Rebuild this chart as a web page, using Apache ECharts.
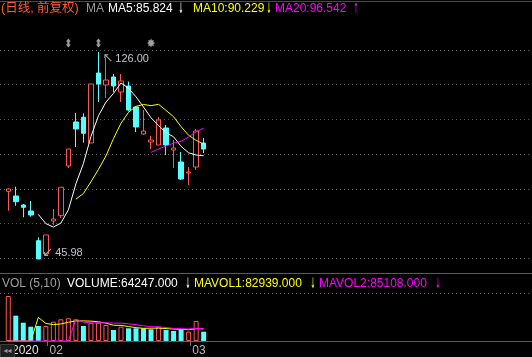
<!DOCTYPE html>
<html><head><meta charset="utf-8">
<script src="https://cdn.jsdelivr.net/npm/echarts@6/dist/echarts.min.js"></script>
<style>html,body{margin:0;padding:0;background:#000;}#c{width:532px;height:357px;}</style>
</head><body><div id="c"></div>
<script>
// ---------------- data ----------------
const dates = ['2020-01-27','2020-01-28','2020-01-29','2020-01-30','2020-01-31',
  '2020-02-03','2020-02-04','2020-02-05','2020-02-06','2020-02-07',
  '2020-02-10','2020-02-11','2020-02-12','2020-02-13','2020-02-14',
  '2020-02-18','2020-02-19','2020-02-20','2020-02-21',
  '2020-02-24','2020-02-25','2020-02-26','2020-02-27','2020-02-28',
  '2020-03-02','2020-03-03','2020-03-04'];
const opens  = [72.15,70.33,66.85,64.53,53.05,47.91,60.67,62.72,81.93,98.94,100.76,90.82,117.88,113.25,116.34,110.54,112.86,104.74,94.30,91.21,90.05,96.62,88.11,83.48,79.22,81.54,90.82];
const closes = [73.04,68.13,65.96,62.99,45.98,55.26,61.44,73.70,88.50,96.23,94.57,113.63,113.63,115.18,112.86,114.79,103.58,97.01,95.46,91.98,99.71,90.05,88.89,76.90,79.61,95.46,88.50];
const lows   = [64.65,66.58,62.10,62.33,45.98,47.50,59.12,61.83,81.16,89.27,90.94,90.82,106.67,108.22,110.54,106.67,103.00,95.07,93.91,88.50,90.05,86.18,81.16,76.52,74.59,80.38,86.95];
const highs  = [73.30,73.93,67.24,68.40,54.37,55.26,65.31,73.70,88.50,102.42,102.30,113.63,126.00,123.68,117.50,117.50,114.60,104.74,103.58,93.53,100.87,97.78,91.98,87.34,81.54,96.23,92.75];
const volumes = [310500,174600,126300,98700,103500,103500,133200,149700,156600,149700,103500,126300,126300,110400,75900,98700,87600,87600,87600,80700,98700,75900,69000,80700,64200,138000,64247];
const maPeriods = [5, 10, 20];
const volMaPeriods = [5, 10];
const eventIndex = [8, 12, 19];
const eventKind = ['split', 'split', 'news'];
const headerTexts = ['(日线, 前复权)', 'MA', 'MA5:85.824', '↓', 'MA10:90.229', '↓', 'MA20:96.542', '↑'];
const volumeTexts = ['VOL (5,10)', 'VOLUME:64247.000', '↓', 'MAVOL1:82939.000', '↓', 'MAVOL2:85108.000', '↓'];

// ---------------- helpers ----------------
function movingAverage(arr, n, fill) {
  return arr.map((v, i) => {
    if (i < n - 1) return fill;
    let s = 0; for (let k = i - n + 1; k <= i; k++) s += arr[k];
    return +(s / n).toFixed(3);
  });
}
const UP = '#ff5555', DOWN = '#55ffff';
const SLOTS = 70, STEP = 7.515, LEFT = 4.5;
const plotW = SLOTS * STEP;
const candleData = dates.map((d, i) => [opens[i], closes[i], lows[i], highs[i]]);
// volume bars coloured by change against the previous close
const volData = volumes.map((v, i) => ({
  value: v,
  itemStyle: (i === 0 || closes[i] >= closes[i - 1])
    ? { color: 'rgba(0,0,0,0)', borderColor: UP, borderWidth: 1 }
    : { color: DOWN, borderColor: DOWN, borderWidth: 0 }
}));
const maColors = ['#ffffff', '#ffff00', '#ff00ff'];
const arrowPath = 'path://M2.5,0 L5,3 L3.6,3 L3.6,6 L5,6 L2.5,9 L0,6 L1.4,6 L1.4,3 L0,3 Z';
const starPath = 'path://M10,5 L7.9,6.2 L8.5,8.5 L6.2,7.9 L5,10 L3.8,7.9 L1.5,8.5 L2.1,6.2 L0,5 L2.1,3.8 L1.5,1.5 L3.8,2.1 L5,0 L6.2,2.1 L8.5,1.5 L7.9,3.8 Z';
const isMonthStart = (idx) => idx > 0 && idx < dates.length && dates[idx].slice(5, 7) !== dates[idx - 1].slice(5, 7);

const FONT = '"Liberation Sans", Arial, "Noto Sans CJK SC", sans-serif';
const headerColors = ['#ff5a2a', '#9a9a9a', '#ffffff', '#ffffff', '#ffff00', '#ffff00', '#ff00ff', '#ff00ff'];
const headerX = [1, 86, 108, 181, 193, 269, 275, 356];
const volColors = ['#a0a0a0', '#ffffff', '#ffffff', '#ffff00', '#ffff00', '#ff00ff', '#ff00ff'];
const volX = [2, 67, 188, 194, 313, 319, 438];

function textEl(t, x, y, color, fontSize) {
  const arrow = t.length === 1;
  if (arrow) {
    return { type: 'text', x: x, y: y + 0.5, z: 100, scaleX: 0.55, scaleY: 1.3,
      style: { text: t, fill: color, font: '11px "DejaVu Sans"', textAlign: 'center', textVerticalAlign: 'middle' } };
  }
  return { type: 'text', x: x, y: y, z: 100,
    style: { text: t, fill: color, font: fontSize + 'px ' + FONT, textAlign: 'left', textVerticalAlign: 'middle' } };
}
const graphics = [];
headerTexts.forEach((t, i) => graphics.push(textEl(t, headerX[i], 9, headerColors[i], i === 0 ? 12.5 : 12)));
volumeTexts.forEach((t, i) => graphics.push(textEl(t, volX[i], 284, volColors[i], 12)));
graphics.push({ type: 'line', z: 50, shape: { x1: 0, y1: 1.5, x2: 532, y2: 1.5 }, style: { stroke: '#4a4a4a', lineWidth: 1 } });
graphics.push({ type: 'line', z: 50, shape: { x1: 0, y1: 273.5, x2: 532, y2: 273.5 }, style: { stroke: '#5a5a5a', lineWidth: 1 } });
graphics.push({ type: 'rect', z: 100, shape: { x: 0.5, y: 344.5, width: 14, height: 13 }, style: { fill: '#1e1e1e', stroke: '#3c3c3c', lineWidth: 1 } });
graphics.push({ type: 'text', z: 101, x: 7.5, y: 351, style: { text: '◂◂', fill: '#9a9a9a', font: '8px "DejaVu Sans"', textAlign: 'center', textVerticalAlign: 'middle' } });

const dotted = { show: true, lineStyle: { color: '#5a5a5a', type: [1, 3], width: 1 } };

const option = {
  backgroundColor: '#000',
  animation: false,
  graphic: graphics,
  grid: [
    { left: LEFT, width: plotW, top: 15, bottom: 87 },          // 0 price
    { left: 0, right: 0, top: 50, height: 208.2 },               // 1 price grid lines
    { left: LEFT, width: plotW, top: 38, height: 10 },           // 2 event markers
    { left: LEFT, width: plotW, top: 293, bottom: 16 },          // 3 volume
    { left: 0, right: 0, top: 293, bottom: 16 },                 // 4 volume grid lines + axis line
    { left: LEFT + 1.7, width: plotW, top: 340, bottom: 16 }     // 5 date labels
  ],
  xAxis: [
    { gridIndex: 0, type: 'category', data: dates, max: SLOTS - 1, show: false },
    { gridIndex: 1, type: 'value', show: false },
    { gridIndex: 2, type: 'category', data: dates, max: SLOTS - 1, show: false },
    { gridIndex: 3, type: 'category', data: dates, max: SLOTS - 1, show: false },
    { gridIndex: 4, type: 'value', min: 0, max: 1, axisLine: { show: true, lineStyle: { color: '#5a5a5a', width: 1 } },
      axisTick: { show: false }, axisLabel: { show: false }, splitLine: { show: false } },
    { gridIndex: 5, type: 'category', data: dates, max: SLOTS - 1,
      axisLine: { show: false },
      axisTick: { show: true, alignWithLabel: true, length: 5, lineStyle: { color: '#707070' }, interval: (idx) => isMonthStart(idx) },
      axisLabel: { show: true, margin: 4, align: 'left', padding: [0, 0, 0, 2],
        interval: (idx) => idx === 0 || isMonthStart(idx),
        formatter: (val, idx) => idx === 0 ? '{y|' + val.slice(0, 4) + '}' : '{m|' + val.slice(5, 7) + '}',
        rich: { y: { color: '#e6e6e6', fontSize: 12, fontFamily: FONT }, m: { color: '#b8b8b8', fontSize: 12, fontFamily: FONT } } },
      splitLine: { show: false } }
  ],
  yAxis: [
    { gridIndex: 0, type: 'value', min: 41.727, max: 140.303, show: false },
    { gridIndex: 1, type: 'value', min: 0, max: 6, interval: 1, axisLine: { show: false }, axisTick: { show: false }, axisLabel: { show: false }, splitLine: dotted },
    { gridIndex: 2, type: 'value', min: 0, max: 1, show: false },
    { gridIndex: 3, type: 'value', min: 0, max: 331200, show: false },
    { gridIndex: 4, type: 'value', min: 0, max: 1, interval: 1, axisLine: { show: false }, axisTick: { show: false }, axisLabel: { show: false }, splitLine: dotted },
    { gridIndex: 5, type: 'value', show: false }
  ],
  series: [
    { type: 'candlestick', xAxisIndex: 0, yAxisIndex: 0, data: candleData, barWidth: 5, z: 3,
      itemStyle: { color: '#000', color0: DOWN, borderColor: UP, borderColor0: DOWN, borderWidth: 1 },
      markPoint: {
        symbol: 'circle', symbolSize: 0, silent: true,
        label: { show: true, position: 'right', distance: 4,
          rich: { a: { color: '#a8a8a8', fontSize: 13, fontFamily: '"DejaVu Sans"' },
                  b: { color: '#c4c4cc', fontSize: 11, fontFamily: FONT, padding: [0, 0, 0, 2] } } },
        data: [
          { type: 'max', valueDim: 'highest', label: { offset: [0, 7], formatter: p => '{a|↖}{b|' + Number(p.value).toFixed(2) + '}' } },
          { type: 'min', valueDim: 'lowest', label: { offset: [0, -6], formatter: p => '{a|↙}{b|' + Number(p.value).toFixed(2) + '}' } }
        ]
      }
    },
    ...maPeriods.map((n, k) => ({
      type: 'line', name: 'MA' + n, xAxisIndex: 0, yAxisIndex: 0, z: 4,
      data: movingAverage(closes, n, '-'), showSymbol: false, symbol: 'none',
      lineStyle: { color: maColors[k], width: 1 }
    })),
    { type: 'scatter', xAxisIndex: 2, yAxisIndex: 2,
      data: eventIndex.map((idx, k) => ({ value: [idx, 0.5],
        symbol: eventKind[k] === 'news' ? starPath : arrowPath,
        symbolSize: eventKind[k] === 'news' ? [8, 9] : [5, 9] })),
      itemStyle: { color: '#c8c8c8' } },
    { type: 'bar', xAxisIndex: 3, yAxisIndex: 3, data: volData, barWidth: 5, z: 2 },
    ...volMaPeriods.map((n, k) => ({
      type: 'line', name: 'MAVOL' + (k + 1), xAxisIndex: 3, yAxisIndex: 3, z: 4,
      data: movingAverage(volumes, n, 0), showSymbol: false, symbol: 'none',
      lineStyle: { color: maColors[k + 1], width: 1 }
    }))
  ]
};
const chart = echarts.init(document.getElementById('c'), null, { renderer: 'canvas' });
chart.setOption(option);
</script>
</body></html>
